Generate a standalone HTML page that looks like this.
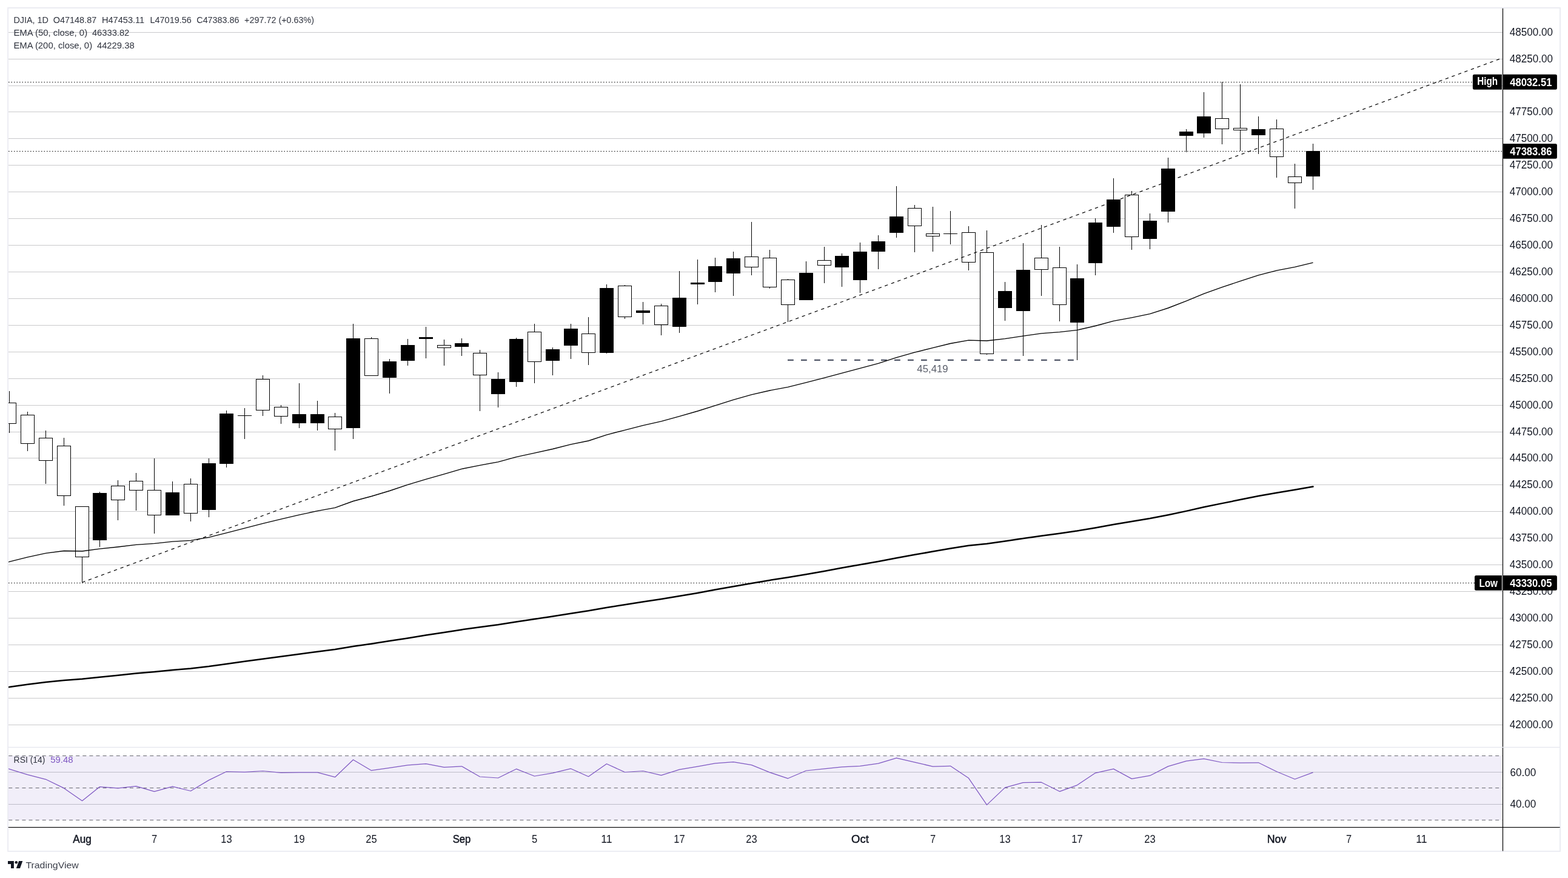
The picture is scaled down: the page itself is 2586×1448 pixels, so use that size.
<!DOCTYPE html>
<html lang="en"><head><meta charset="utf-8"><title>DJIA 1D chart</title>
<style>html,body{margin:0;padding:0;background:#fff;}body{width:2586px;height:1448px;overflow:hidden;}svg{display:block;}text{font-family:"Liberation Sans", "DejaVu Sans", sans-serif;}</style></head><body>
<svg width="2586" height="1448" viewBox="0 0 2586 1448">
<rect x="0" y="0" width="2586" height="1448" fill="#ffffff"/>
<defs><clipPath id="pane"><rect x="14" y="14" width="2463.6" height="1218"/></clipPath><clipPath id="rsi"><rect x="14" y="1233" width="2463.6" height="131"/></clipPath></defs>
<g shape-rendering="crispEdges" stroke="#c9c9cb" stroke-width="1">
<line x1="14" y1="53.5" x2="2477.6" y2="53.5"/>
<line x1="14" y1="97.5" x2="2477.6" y2="97.5"/>
<line x1="14" y1="141.5" x2="2477.6" y2="141.5"/>
<line x1="14" y1="184.5" x2="2477.6" y2="184.5"/>
<line x1="14" y1="228.5" x2="2477.6" y2="228.5"/>
<line x1="14" y1="272.5" x2="2477.6" y2="272.5"/>
<line x1="14" y1="316.5" x2="2477.6" y2="316.5"/>
<line x1="14" y1="360.5" x2="2477.6" y2="360.5"/>
<line x1="14" y1="404.5" x2="2477.6" y2="404.5"/>
<line x1="14" y1="448.5" x2="2477.6" y2="448.5"/>
<line x1="14" y1="492.5" x2="2477.6" y2="492.5"/>
<line x1="14" y1="536.5" x2="2477.6" y2="536.5"/>
<line x1="14" y1="580.5" x2="2477.6" y2="580.5"/>
<line x1="14" y1="624.5" x2="2477.6" y2="624.5"/>
<line x1="14" y1="668.5" x2="2477.6" y2="668.5"/>
<line x1="14" y1="712.5" x2="2477.6" y2="712.5"/>
<line x1="14" y1="755.5" x2="2477.6" y2="755.5"/>
<line x1="14" y1="799.5" x2="2477.6" y2="799.5"/>
<line x1="14" y1="843.5" x2="2477.6" y2="843.5"/>
<line x1="14" y1="887.5" x2="2477.6" y2="887.5"/>
<line x1="14" y1="931.5" x2="2477.6" y2="931.5"/>
<line x1="14" y1="975.5" x2="2477.6" y2="975.5"/>
<line x1="14" y1="1019.5" x2="2477.6" y2="1019.5"/>
<line x1="14" y1="1063.5" x2="2477.6" y2="1063.5"/>
<line x1="14" y1="1107.5" x2="2477.6" y2="1107.5"/>
<line x1="14" y1="1151.5" x2="2477.6" y2="1151.5"/>
<line x1="14" y1="1195.5" x2="2477.6" y2="1195.5"/>
</g>
<g id="rsi-pane">
<rect x="13.6" y="1246.4" width="2463.6" height="106" fill="#f1eef9"/>
<g shape-rendering="crispEdges" stroke="#bdbcc8" stroke-width="1">
<line x1="14" y1="1273.5" x2="2477.6" y2="1273.5"/>
<line x1="14" y1="1326.5" x2="2477.6" y2="1326.5"/>
</g>
<g stroke="#66676f" stroke-width="1.05" stroke-dasharray="6 5.0946" stroke-dashoffset="10.84">
<line x1="14" y1="1246.4" x2="2477.6" y2="1246.4"/>
<line x1="14" y1="1299.4" x2="2477.6" y2="1299.4"/>
<line x1="14" y1="1352.4" x2="2477.6" y2="1352.4"/>
</g>
<polyline clip-path="url(#rsi)" fill="none" stroke="#7e57c2" stroke-width="1.25" stroke-linejoin="round" points="13.6,1267.8 15.5,1268.4 45.5,1277.6 75.5,1285.3 105.5,1299.9 135.5,1320.7 164.5,1297.6 194.5,1299.9 224.5,1296.6 254.5,1305.3 284.5,1297.1 314.5,1304.5 344.5,1286.6 373.5,1272.5 403.5,1273.3 433.5,1271.5 463.5,1274.3 493.5,1273.8 523.5,1273.8 552.5,1281.7 582.5,1253.0 612.5,1270.7 642.5,1266.4 672.5,1261.8 702.5,1259.7 732.5,1265.3 761.5,1263.8 791.5,1281.0 821.5,1283.0 851.5,1268.2 881.5,1280.0 911.5,1274.8 941.5,1267.7 970.5,1280.7 1000.5,1259.7 1030.5,1273.5 1060.5,1271.5 1090.5,1278.7 1120.5,1269.2 1150.5,1264.1 1179.5,1258.9 1209.5,1256.6 1239.5,1261.6 1269.5,1273.8 1299.5,1283.8 1329.5,1271.0 1359.5,1267.9 1388.5,1264.8 1418.5,1263.3 1448.5,1259.2 1478.5,1250.2 1508.5,1257.2 1538.5,1264.1 1567.5,1263.3 1597.5,1283.3 1627.5,1327.4 1657.5,1298.9 1687.5,1290.7 1717.5,1290.2 1747.5,1305.3 1776.5,1294.8 1806.5,1274.8 1836.5,1268.1 1866.5,1284.4 1896.5,1279.2 1926.5,1263.9 1956.5,1255.1 1985.5,1251.4 2015.5,1257.5 2045.5,1258.1 2075.5,1257.8 2105.5,1272.5 2135.5,1285.0 2165.5,1273.9"/>
</g>
<g id="main-pane" clip-path="url(#pane)">
<g shape-rendering="crispEdges">
<rect x="15" y="645" width="1" height="69" fill="#000"/>
<rect x="4.5" y="664.5" width="22" height="34" fill="#fff" stroke="#000" stroke-width="1"/>
<rect x="45" y="679" width="1" height="65" fill="#000"/>
<rect x="34.5" y="684.5" width="22" height="47" fill="#fff" stroke="#000" stroke-width="1"/>
<rect x="75" y="710" width="1" height="88" fill="#000"/>
<rect x="64.5" y="722.5" width="22" height="37" fill="#fff" stroke="#000" stroke-width="1"/>
<rect x="105" y="722" width="1" height="112" fill="#000"/>
<rect x="94.5" y="735.5" width="22" height="82" fill="#fff" stroke="#000" stroke-width="1"/>
<rect x="135" y="835" width="1" height="125" fill="#000"/>
<rect x="124.5" y="835.5" width="22" height="83" fill="#fff" stroke="#000" stroke-width="1"/>
<rect x="164" y="811" width="1" height="91" fill="#000"/>
<rect x="153" y="813" width="23" height="78" fill="#000"/>
<rect x="194" y="792" width="1" height="66" fill="#000"/>
<rect x="183.5" y="801.5" width="22" height="23" fill="#fff" stroke="#000" stroke-width="1"/>
<rect x="224" y="780" width="1" height="62" fill="#000"/>
<rect x="213.5" y="793.5" width="22" height="15" fill="#fff" stroke="#000" stroke-width="1"/>
<rect x="254" y="756" width="1" height="124" fill="#000"/>
<rect x="243.5" y="808.5" width="22" height="41" fill="#fff" stroke="#000" stroke-width="1"/>
<rect x="284" y="794" width="1" height="56" fill="#000"/>
<rect x="273" y="812" width="23" height="38" fill="#000"/>
<rect x="314" y="789" width="1" height="71" fill="#000"/>
<rect x="303.5" y="798.5" width="22" height="48" fill="#fff" stroke="#000" stroke-width="1"/>
<rect x="344" y="756" width="1" height="97" fill="#000"/>
<rect x="333" y="764" width="23" height="77" fill="#000"/>
<rect x="373" y="677" width="1" height="94" fill="#000"/>
<rect x="362" y="682" width="23" height="83" fill="#000"/>
<rect x="403" y="673" width="1" height="51" fill="#000"/>
<rect x="392" y="685" width="23" height="1" fill="#000"/>
<rect x="433" y="619" width="1" height="67" fill="#000"/>
<rect x="422.5" y="625.5" width="22" height="51" fill="#fff" stroke="#000" stroke-width="1"/>
<rect x="463" y="668" width="1" height="31" fill="#000"/>
<rect x="452.5" y="671.5" width="22" height="15" fill="#fff" stroke="#000" stroke-width="1"/>
<rect x="493" y="632" width="1" height="74" fill="#000"/>
<rect x="482" y="683" width="23" height="15" fill="#000"/>
<rect x="523" y="661" width="1" height="49" fill="#000"/>
<rect x="512" y="683" width="23" height="15" fill="#000"/>
<rect x="552" y="681" width="1" height="62" fill="#000"/>
<rect x="541.5" y="687.5" width="22" height="20" fill="#fff" stroke="#000" stroke-width="1"/>
<rect x="582" y="534" width="1" height="190" fill="#000"/>
<rect x="571" y="558" width="23" height="148" fill="#000"/>
<rect x="612" y="556" width="1" height="63" fill="#000"/>
<rect x="601.5" y="558.5" width="22" height="61" fill="#fff" stroke="#000" stroke-width="1"/>
<rect x="642" y="592" width="1" height="57" fill="#000"/>
<rect x="631" y="596" width="23" height="27" fill="#000"/>
<rect x="672" y="559" width="1" height="44" fill="#000"/>
<rect x="661" y="569" width="23" height="26" fill="#000"/>
<rect x="702" y="539" width="1" height="52" fill="#000"/>
<rect x="691" y="556" width="23" height="3" fill="#000"/>
<rect x="732" y="560" width="1" height="43" fill="#000"/>
<rect x="721.5" y="569.5" width="22" height="4" fill="#fff" stroke="#000" stroke-width="1"/>
<rect x="761" y="558" width="1" height="29" fill="#000"/>
<rect x="750" y="566" width="23" height="6" fill="#000"/>
<rect x="791" y="577" width="1" height="101" fill="#000"/>
<rect x="780.5" y="582.5" width="22" height="36" fill="#fff" stroke="#000" stroke-width="1"/>
<rect x="821" y="614" width="1" height="58" fill="#000"/>
<rect x="810" y="625" width="23" height="25" fill="#000"/>
<rect x="851" y="557" width="1" height="81" fill="#000"/>
<rect x="840" y="559" width="23" height="71" fill="#000"/>
<rect x="881" y="534" width="1" height="98" fill="#000"/>
<rect x="870.5" y="547.5" width="22" height="49" fill="#fff" stroke="#000" stroke-width="1"/>
<rect x="911" y="573" width="1" height="46" fill="#000"/>
<rect x="900" y="576" width="23" height="19" fill="#000"/>
<rect x="941" y="534" width="1" height="58" fill="#000"/>
<rect x="930" y="542" width="23" height="28" fill="#000"/>
<rect x="970" y="523" width="1" height="79" fill="#000"/>
<rect x="959.5" y="550.5" width="22" height="31" fill="#fff" stroke="#000" stroke-width="1"/>
<rect x="1000" y="469" width="1" height="114" fill="#000"/>
<rect x="989" y="475" width="23" height="107" fill="#000"/>
<rect x="1030" y="470" width="1" height="56" fill="#000"/>
<rect x="1019.5" y="471.5" width="22" height="51" fill="#fff" stroke="#000" stroke-width="1"/>
<rect x="1060" y="498" width="1" height="37" fill="#000"/>
<rect x="1049" y="512" width="23" height="4" fill="#000"/>
<rect x="1090" y="501" width="1" height="52" fill="#000"/>
<rect x="1079.5" y="504.5" width="22" height="31" fill="#fff" stroke="#000" stroke-width="1"/>
<rect x="1120" y="447" width="1" height="102" fill="#000"/>
<rect x="1109" y="491" width="23" height="48" fill="#000"/>
<rect x="1150" y="428" width="1" height="74" fill="#000"/>
<rect x="1139" y="466" width="23" height="3" fill="#000"/>
<rect x="1179" y="425" width="1" height="57" fill="#000"/>
<rect x="1168" y="439" width="23" height="26" fill="#000"/>
<rect x="1209" y="415" width="1" height="73" fill="#000"/>
<rect x="1198" y="426" width="23" height="25" fill="#000"/>
<rect x="1239" y="366" width="1" height="88" fill="#000"/>
<rect x="1228.5" y="423.5" width="22" height="17" fill="#fff" stroke="#000" stroke-width="1"/>
<rect x="1269" y="412" width="1" height="64" fill="#000"/>
<rect x="1258.5" y="425.5" width="22" height="48" fill="#fff" stroke="#000" stroke-width="1"/>
<rect x="1299" y="460" width="1" height="71" fill="#000"/>
<rect x="1288.5" y="461.5" width="22" height="41" fill="#fff" stroke="#000" stroke-width="1"/>
<rect x="1329" y="431" width="1" height="64" fill="#000"/>
<rect x="1318" y="450" width="23" height="45" fill="#000"/>
<rect x="1359" y="407" width="1" height="60" fill="#000"/>
<rect x="1348.5" y="429.5" width="22" height="8" fill="#fff" stroke="#000" stroke-width="1"/>
<rect x="1388" y="418" width="1" height="55" fill="#000"/>
<rect x="1377" y="422" width="23" height="19" fill="#000"/>
<rect x="1418" y="400" width="1" height="83" fill="#000"/>
<rect x="1407" y="415" width="23" height="47" fill="#000"/>
<rect x="1448" y="388" width="1" height="56" fill="#000"/>
<rect x="1437" y="398" width="23" height="17" fill="#000"/>
<rect x="1478" y="307" width="1" height="85" fill="#000"/>
<rect x="1467" y="357" width="23" height="27" fill="#000"/>
<rect x="1508" y="338" width="1" height="78" fill="#000"/>
<rect x="1497.5" y="343.5" width="22" height="29" fill="#fff" stroke="#000" stroke-width="1"/>
<rect x="1538" y="341" width="1" height="74" fill="#000"/>
<rect x="1527.5" y="385.5" width="22" height="4" fill="#fff" stroke="#000" stroke-width="1"/>
<rect x="1567" y="348" width="1" height="55" fill="#000"/>
<rect x="1556" y="385" width="23" height="1" fill="#000"/>
<rect x="1597" y="373" width="1" height="73" fill="#000"/>
<rect x="1586.5" y="383.5" width="22" height="49" fill="#fff" stroke="#000" stroke-width="1"/>
<rect x="1627" y="380" width="1" height="205" fill="#000"/>
<rect x="1616.5" y="416.5" width="22" height="167" fill="#fff" stroke="#000" stroke-width="1"/>
<rect x="1657" y="465" width="1" height="64" fill="#000"/>
<rect x="1646" y="480" width="23" height="28" fill="#000"/>
<rect x="1687" y="401" width="1" height="186" fill="#000"/>
<rect x="1676" y="445" width="23" height="68" fill="#000"/>
<rect x="1717" y="371" width="1" height="117" fill="#000"/>
<rect x="1706.5" y="425.5" width="22" height="19" fill="#fff" stroke="#000" stroke-width="1"/>
<rect x="1747" y="407" width="1" height="123" fill="#000"/>
<rect x="1736.5" y="441.5" width="22" height="61" fill="#fff" stroke="#000" stroke-width="1"/>
<rect x="1776" y="436" width="1" height="158" fill="#000"/>
<rect x="1765" y="459" width="23" height="73" fill="#000"/>
<rect x="1806" y="360" width="1" height="94" fill="#000"/>
<rect x="1795" y="367" width="23" height="67" fill="#000"/>
<rect x="1836" y="294" width="1" height="90" fill="#000"/>
<rect x="1825" y="329" width="23" height="45" fill="#000"/>
<rect x="1866" y="315" width="1" height="97" fill="#000"/>
<rect x="1855.5" y="321.5" width="22" height="69" fill="#fff" stroke="#000" stroke-width="1"/>
<rect x="1896" y="352" width="1" height="59" fill="#000"/>
<rect x="1885" y="364" width="23" height="30" fill="#000"/>
<rect x="1926" y="260" width="1" height="107" fill="#000"/>
<rect x="1915" y="278" width="23" height="71" fill="#000"/>
<rect x="1956" y="213" width="1" height="38" fill="#000"/>
<rect x="1945" y="217" width="23" height="7" fill="#000"/>
<rect x="1985" y="152" width="1" height="75" fill="#000"/>
<rect x="1974" y="192" width="23" height="28" fill="#000"/>
<rect x="2015" y="135" width="1" height="103" fill="#000"/>
<rect x="2004.5" y="195.5" width="22" height="17" fill="#fff" stroke="#000" stroke-width="1"/>
<rect x="2045" y="139" width="1" height="110" fill="#000"/>
<rect x="2034.5" y="211.5" width="22" height="3" fill="#fff" stroke="#000" stroke-width="1"/>
<rect x="2075" y="192" width="1" height="62" fill="#000"/>
<rect x="2064" y="213" width="23" height="10" fill="#000"/>
<rect x="2105" y="197" width="1" height="96" fill="#000"/>
<rect x="2094.5" y="212.5" width="22" height="46" fill="#fff" stroke="#000" stroke-width="1"/>
<rect x="2135" y="270" width="1" height="74" fill="#000"/>
<rect x="2124.5" y="291.5" width="22" height="10" fill="#fff" stroke="#000" stroke-width="1"/>
<rect x="2165" y="237" width="1" height="76" fill="#000"/>
<rect x="2154" y="249" width="23" height="42" fill="#000"/>
</g>
<g stroke="#000" stroke-width="1" stroke-dasharray="1.5 3">
<line x1="14" y1="135.5" x2="2429.0" y2="135.5"/>
<line x1="14" y1="249.5" x2="2477.6" y2="249.5"/>
<line x1="14" y1="961.5" x2="2432.0" y2="961.5"/>
</g>
<line x1="135.4" y1="960.5" x2="2477.6" y2="95.6" stroke="#000" stroke-width="1.2" stroke-dasharray="5.4 5.8"/>
<line x1="1299" y1="593.9" x2="1776.6" y2="593.9" stroke="#4f5566" stroke-width="2.3" stroke-dasharray="9.8 12.2"/>
<text x="1538" y="613.8" font-size="16.4" fill="#5b5f6b" text-anchor="middle" textLength="51.3" lengthAdjust="spacingAndGlyphs">45,419</text>
<polyline fill="none" stroke="#000" stroke-width="2.5" stroke-linejoin="round" stroke-linecap="round" points="13.4,1133.3 15.5,1132.9 45.5,1128.8 75.5,1125.1 105.5,1121.9 135.5,1119.8 164.5,1116.7 194.5,1113.7 224.5,1110.6 254.5,1108.0 284.5,1105.0 314.5,1102.4 344.5,1099.1 373.5,1094.9 403.5,1090.8 433.5,1086.7 463.5,1082.7 493.5,1078.7 523.5,1074.8 552.5,1071.1 582.5,1066.1 612.5,1061.7 642.5,1057.1 672.5,1052.4 702.5,1047.6 732.5,1043.0 761.5,1038.4 791.5,1034.3 821.5,1030.3 851.5,1025.5 881.5,1021.1 911.5,1016.5 941.5,1011.7 970.5,1007.3 1000.5,1002.0 1030.5,997.3 1060.5,992.5 1090.5,988.0 1120.5,983.1 1150.5,978.0 1179.5,972.6 1209.5,967.2 1239.5,961.9 1269.5,956.9 1299.5,952.3 1329.5,947.2 1359.5,941.9 1388.5,936.6 1418.5,931.3 1448.5,926.0 1478.5,920.2 1508.5,914.8 1538.5,909.6 1567.5,904.4 1597.5,899.8 1627.5,896.7 1657.5,892.5 1687.5,888.1 1717.5,883.7 1747.5,879.8 1776.5,875.6 1806.5,870.4 1836.5,865.0 1866.5,860.1 1896.5,855.1 1926.5,849.2 1956.5,842.9 1985.5,836.3 2015.5,830.1 2045.5,824.1 2075.5,818.1 2105.5,812.7 2135.5,807.7 2165.5,802.5"/>
<polyline fill="none" stroke="#000" stroke-width="1.35" stroke-linejoin="round" points="13.4,927.0 15.5,926.4 45.5,918.9 75.5,912.3 105.5,908.5 135.5,909.0 164.5,905.2 194.5,902.0 224.5,898.3 254.5,896.3 284.5,893.1 314.5,891.3 344.5,886.1 373.5,878.8 403.5,871.1 433.5,863.3 463.5,856.1 493.5,849.2 523.5,842.6 552.5,837.3 582.5,826.5 612.5,818.5 642.5,809.5 672.5,799.4 702.5,790.4 732.5,781.9 761.5,773.3 791.5,767.3 821.5,761.8 851.5,753.6 881.5,747.2 911.5,740.5 941.5,732.9 970.5,727.0 1000.5,717.1 1030.5,709.3 1060.5,701.6 1090.5,694.9 1120.5,686.7 1150.5,678.0 1179.5,668.8 1209.5,659.4 1239.5,650.9 1269.5,644.0 1299.5,638.3 1329.5,630.9 1359.5,623.2 1388.5,615.3 1418.5,607.4 1448.5,599.3 1478.5,589.7 1508.5,581.1 1538.5,573.6 1567.5,566.5 1597.5,561.1 1627.5,562.0 1657.5,558.7 1687.5,554.2 1717.5,549.8 1747.5,547.6 1776.5,544.4 1806.5,537.5 1836.5,529.4 1866.5,523.8 1896.5,517.6 1926.5,508.0 1956.5,496.4 1985.5,484.4 2015.5,473.7 2045.5,463.6 2075.5,453.9 2105.5,446.1 2135.5,440.4 2165.5,433.2"/>
</g>
<rect x="13.1" y="13" width="2559.9" height="1390.9" fill="none" stroke="#ebecf2" stroke-width="1.9"/>
<rect x="2477.9" y="13.8" width="1.2" height="1389.7" fill="#000"/>
<rect x="13.8" y="1363.9" width="2558.8" height="1.15" fill="#000"/>
<rect x="13.8" y="1231.8" width="2558.4" height="1.3" fill="#e4e6ee"/>
<g font-size="17.5" fill="#131722">
<text x="2489.7" y="59.0" textLength="71.2" lengthAdjust="spacingAndGlyphs">48500.00</text>
<text x="2489.7" y="103.0" textLength="71.2" lengthAdjust="spacingAndGlyphs">48250.00</text>
<text x="2489.7" y="147.0" textLength="71.2" lengthAdjust="spacingAndGlyphs">48000.00</text>
<text x="2489.7" y="190.0" textLength="71.2" lengthAdjust="spacingAndGlyphs">47750.00</text>
<text x="2489.7" y="234.0" textLength="71.2" lengthAdjust="spacingAndGlyphs">47500.00</text>
<text x="2489.7" y="278.0" textLength="71.2" lengthAdjust="spacingAndGlyphs">47250.00</text>
<text x="2489.7" y="322.0" textLength="71.2" lengthAdjust="spacingAndGlyphs">47000.00</text>
<text x="2489.7" y="366.0" textLength="71.2" lengthAdjust="spacingAndGlyphs">46750.00</text>
<text x="2489.7" y="410.0" textLength="71.2" lengthAdjust="spacingAndGlyphs">46500.00</text>
<text x="2489.7" y="454.0" textLength="71.2" lengthAdjust="spacingAndGlyphs">46250.00</text>
<text x="2489.7" y="498.0" textLength="71.2" lengthAdjust="spacingAndGlyphs">46000.00</text>
<text x="2489.7" y="542.0" textLength="71.2" lengthAdjust="spacingAndGlyphs">45750.00</text>
<text x="2489.7" y="586.0" textLength="71.2" lengthAdjust="spacingAndGlyphs">45500.00</text>
<text x="2489.7" y="630.0" textLength="71.2" lengthAdjust="spacingAndGlyphs">45250.00</text>
<text x="2489.7" y="674.0" textLength="71.2" lengthAdjust="spacingAndGlyphs">45000.00</text>
<text x="2489.7" y="718.0" textLength="71.2" lengthAdjust="spacingAndGlyphs">44750.00</text>
<text x="2489.7" y="761.0" textLength="71.2" lengthAdjust="spacingAndGlyphs">44500.00</text>
<text x="2489.7" y="805.0" textLength="71.2" lengthAdjust="spacingAndGlyphs">44250.00</text>
<text x="2489.7" y="849.0" textLength="71.2" lengthAdjust="spacingAndGlyphs">44000.00</text>
<text x="2489.7" y="893.0" textLength="71.2" lengthAdjust="spacingAndGlyphs">43750.00</text>
<text x="2489.7" y="937.0" textLength="71.2" lengthAdjust="spacingAndGlyphs">43500.00</text>
<text x="2489.7" y="981.0" textLength="71.2" lengthAdjust="spacingAndGlyphs">43250.00</text>
<text x="2489.7" y="1025.0" textLength="71.2" lengthAdjust="spacingAndGlyphs">43000.00</text>
<text x="2489.7" y="1069.0" textLength="71.2" lengthAdjust="spacingAndGlyphs">42750.00</text>
<text x="2489.7" y="1113.0" textLength="71.2" lengthAdjust="spacingAndGlyphs">42500.00</text>
<text x="2489.7" y="1157.0" textLength="71.2" lengthAdjust="spacingAndGlyphs">42250.00</text>
<text x="2489.7" y="1201.0" textLength="71.2" lengthAdjust="spacingAndGlyphs">42000.00</text>
<text x="2490.4" y="1279.6" textLength="42.8" lengthAdjust="spacingAndGlyphs">60.00</text>
<text x="2490.4" y="1332.2" textLength="42.8" lengthAdjust="spacingAndGlyphs">40.00</text>
</g>
<path d="M2431.4 122.8 h45.5 v24.9 h-45.5 a2.5 2.5 0 0 1 -2.5 -2.5 v-19.9 a2.5 2.5 0 0 1 2.5 -2.5z" fill="#000"/>
<path d="M2479.2 122.8 h86.2 a2.5 2.5 0 0 1 2.5 2.5 v19.9 a2.5 2.5 0 0 1 -2.5 2.5 h-86.2z" fill="#000"/>
<text x="2490.2" y="142.1" font-size="17.5" font-weight="bold" fill="#fff" textLength="69.2" lengthAdjust="spacingAndGlyphs">48032.51</text>
<text x="2436.2" y="140.1" font-size="17.5" font-weight="bold" fill="#fff" textLength="33.8" lengthAdjust="spacingAndGlyphs">High</text>
<path d="M2479.2 236.9 h86.2 a2.5 2.5 0 0 1 2.5 2.5 v19.9 a2.5 2.5 0 0 1 -2.5 2.5 h-86.2z" fill="#000"/>
<text x="2490.2" y="256.2" font-size="17.5" font-weight="bold" fill="#fff" textLength="69.2" lengthAdjust="spacingAndGlyphs">47383.86</text>
<path d="M2434.5 948.9 h42.4 v24.9 h-42.4 a2.5 2.5 0 0 1 -2.5 -2.5 v-19.9 a2.5 2.5 0 0 1 2.5 -2.5z" fill="#000"/>
<path d="M2479.2 948.9 h86.2 a2.5 2.5 0 0 1 2.5 2.5 v19.9 a2.5 2.5 0 0 1 -2.5 2.5 h-86.2z" fill="#000"/>
<text x="2490.2" y="968.2" font-size="17.5" font-weight="bold" fill="#fff" textLength="69.2" lengthAdjust="spacingAndGlyphs">43330.05</text>
<text x="2439.4" y="968.1" font-size="17.5" font-weight="bold" fill="#fff" textLength="30.6" lengthAdjust="spacingAndGlyphs">Low</text>
<g font-size="17.5" fill="#131722" text-anchor="middle">
<text x="135.5" y="1390" stroke="#131722" stroke-width="0.5" textLength="30.4" lengthAdjust="spacingAndGlyphs">Aug</text>
<text x="254.5" y="1390" textLength="9.2" lengthAdjust="spacingAndGlyphs">7</text>
<text x="373.5" y="1390" textLength="18.3" lengthAdjust="spacingAndGlyphs">13</text>
<text x="493.5" y="1390" textLength="18.3" lengthAdjust="spacingAndGlyphs">19</text>
<text x="612.5" y="1390" textLength="18.3" lengthAdjust="spacingAndGlyphs">25</text>
<text x="761.5" y="1390" stroke="#131722" stroke-width="0.5" textLength="29.6" lengthAdjust="spacingAndGlyphs">Sep</text>
<text x="881.5" y="1390" textLength="9.2" lengthAdjust="spacingAndGlyphs">5</text>
<text x="1000.5" y="1390" textLength="18.3" lengthAdjust="spacingAndGlyphs">11</text>
<text x="1120.5" y="1390" textLength="18.3" lengthAdjust="spacingAndGlyphs">17</text>
<text x="1239.5" y="1390" textLength="18.3" lengthAdjust="spacingAndGlyphs">23</text>
<text x="1418.5" y="1390" stroke="#131722" stroke-width="0.5" textLength="28.8" lengthAdjust="spacingAndGlyphs">Oct</text>
<text x="1538.5" y="1390" textLength="9.2" lengthAdjust="spacingAndGlyphs">7</text>
<text x="1657.5" y="1390" textLength="18.3" lengthAdjust="spacingAndGlyphs">13</text>
<text x="1776.5" y="1390" textLength="18.3" lengthAdjust="spacingAndGlyphs">17</text>
<text x="1896.5" y="1390" textLength="18.3" lengthAdjust="spacingAndGlyphs">23</text>
<text x="2105.5" y="1390" stroke="#131722" stroke-width="0.5" textLength="31.6" lengthAdjust="spacingAndGlyphs">Nov</text>
<text x="2224.5" y="1390" textLength="9.2" lengthAdjust="spacingAndGlyphs">7</text>
<text x="2344.5" y="1390" textLength="18.3" lengthAdjust="spacingAndGlyphs">11</text>
</g>
<g font-size="14.5" fill="#2f333e">
<text x="22.4" y="38.2" textLength="57.5" lengthAdjust="spacingAndGlyphs">DJIA, 1D</text>
<text x="87.8" y="38.2" textLength="71.4" lengthAdjust="spacingAndGlyphs">O47148.87</text>
<text x="167.9" y="38.2" textLength="70.3" lengthAdjust="spacingAndGlyphs">H47453.11</text>
<text x="247.5" y="38.2" textLength="68.3" lengthAdjust="spacingAndGlyphs">L47019.56</text>
<text x="324.3" y="38.2" textLength="70.1" lengthAdjust="spacingAndGlyphs">C47383.86</text>
<text x="403.1" y="38.2" textLength="115.0" lengthAdjust="spacingAndGlyphs">+297.72 (+0.63%)</text>
<text x="22.4" y="58.8" textLength="121.7" lengthAdjust="spacingAndGlyphs">EMA (50, close, 0)</text>
<text x="151.9" y="58.8" textLength="61.4" lengthAdjust="spacingAndGlyphs">46333.82</text>
<text x="22.4" y="79.7" textLength="129.7" lengthAdjust="spacingAndGlyphs">EMA (200, close, 0)</text>
<text x="159.9" y="79.7" textLength="61.8" lengthAdjust="spacingAndGlyphs">44229.38</text>
<text x="22.6" y="1257.6" textLength="51.8" lengthAdjust="spacingAndGlyphs">RSI (14)</text>
<text x="83.2" y="1257.6" textLength="37.4" lengthAdjust="spacingAndGlyphs" fill="#7e57c2">59.48</text>
</g>
<g id="tv-logo" fill="#131722">
<path d="M13 1420.1 H22.9 V1431.9 H18 V1424.9 H13 Z"/>
<circle cx="26.8" cy="1422.3" r="2.3"/>
<path d="M31.1 1420.1 H37.3 L33 1431.9 H26.8 Z"/>
<text x="42.4" y="1431.9" font-size="14.8" fill="#3b3f4a" textLength="87.4" lengthAdjust="spacingAndGlyphs">TradingView</text>
</g>
</svg></body></html>
